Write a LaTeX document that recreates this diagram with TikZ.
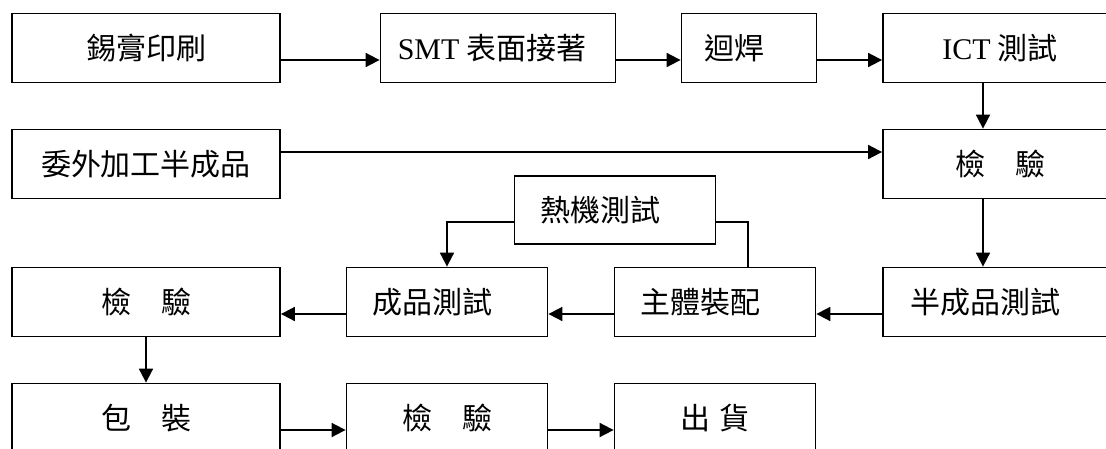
\documentclass[tikz,border=0pt]{standalone}
\usepackage{fontspec}
\setmainfont{Noto Sans CJK TC}
\newfontfamily\latin{Liberation Serif}
\usepackage{tikz}
\usetikzlibrary{arrows.meta}

\newcommand{\lft}[1]{#1\hspace*{30pt}}

\begin{document}
\begin{tikzpicture}[x=1pt, y=-1pt,
	box/.style={shape=rectangle, draw=black, line width=1.8pt, minimum height=69pt, inner sep=0pt, font=\fontsize{30}{32}\selectfont},
	arr/.style={-{Triangle[length=14pt,width=14pt]}, line width=1.8pt}]
	
	\useasboundingbox (0,0) rectangle (1106,448);
	
	\node[box, minimum width=268pt] (paste) at (146, 48)     {錫膏印刷};
	\node[box, minimum width=235pt] (smt) at (498, 48)     {{\latin SMT} 表面接著\hspace*{12pt}};
	\node[box, minimum width=135pt] (reflow) at (749, 48)     {\lft{迴焊}};
	\node[box, minimum width=234pt] (ict) at (1000, 48)     {{\latin ICT} 測試};
	
	\node[box, minimum width=268pt] (outs) at (146, 164)     {委外加工半成品};
	\node[box, minimum width=234pt] (chka) at (1000, 164)     {檢　驗};
	\node[box, minimum width=201pt, minimum height=68pt] (heat) at (615, 210)     {\lft{熱機測試}};
	
	\node[box, minimum width=268pt] (chkb) at (146, 302)     {檢　驗};
	\node[box, minimum width=201pt] (fin) at (447, 302)     {\lft{成品測試}};
	\node[box, minimum width=201pt] (asm) at (715, 302)     {\lft{主體裝配}};
	\node[box, minimum width=234pt] (semi) at (1000, 302)     {\lft{半成品測試}};
	
	\node[box, minimum width=268pt] (pack) at (146, 418)     {包　裝};
	\node[box, minimum width=201pt] (chkc) at (447, 418)     {檢　驗};
	\node[box, minimum width=201pt] (ship) at (715, 418)     {出\hspace{10pt}貨};
	
	\draw[arr] ([yshift=-12pt]paste.east) -- ([yshift=-12pt]smt.west);
	\draw[arr] ([yshift=-12pt]smt.east) -- ([yshift=-12pt]reflow.west);
	\draw[arr] ([yshift=-12pt]reflow.east) -- ([yshift=-12pt]ict.west);
	\draw[arr] ([xshift=-17pt]ict.south) -- ([xshift=-17pt]chka.north);
	\draw[arr] ([yshift=12pt]outs.east) -- ([yshift=12pt]chka.west);
	\draw[arr] ([xshift=-17pt]chka.south) -- ([xshift=-17pt]semi.north);
	\draw[arr] ([yshift=-12pt]semi.west) -- ([yshift=-12pt]asm.east);
	\draw[arr] ([yshift=-12pt]asm.west) -- ([yshift=-12pt]fin.east);
	\draw[arr] ([yshift=-12pt]fin.west) -- ([yshift=-12pt]chkb.east);
	\draw[line width=1.8pt] ([xshift=33pt]asm.north) |- ([yshift=-12pt]heat.east);
	\draw[arr] ([yshift=-12pt]heat.west) -| (fin.north);
	\draw[arr] (chkb.south) -- (pack.north);
	\draw[arr] ([yshift=-12pt]pack.east) -- ([yshift=-12pt]chkc.west);
	\draw[arr] ([yshift=-12pt]chkc.east) -- ([yshift=-12pt]ship.west);
	
\end{tikzpicture}
\end{document}
